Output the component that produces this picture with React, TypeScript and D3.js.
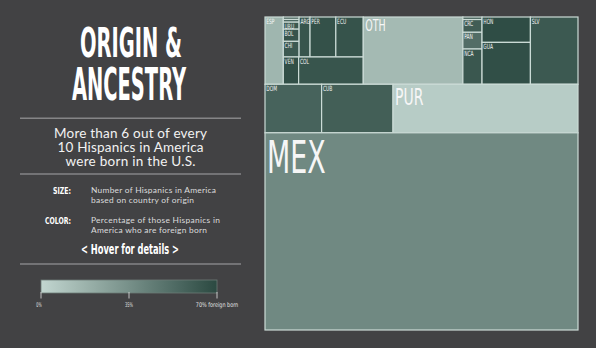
import React from "react";
import * as d3 from "d3";

const W = 596;
const H = 348;

// ---- data (leaves in display order) ----
const codes = ["ESP","PAR","OSA","URU","BOL","CHI","ARG","PER","ECU","VEN","COL","OTH","OCA","CRC","PAN","NCA","HON","GUA","SLV","DOM","CUB","PUR","MEX"];
// thousands of Hispanics by origin
const populations = [635,20,22,57,99,127,225,531,565,215,909,3452,25,126,165,348,633,1044,1649,1415,1785,4624,31798];
// % foreign born
const foreignBorn = [16,60,58,62,65,62,64,66,65,67,64,14,60,60,52,63,68,67,62,57,59,5,38];
const leafGroups = ["top","saSmall","saSmall","saSmall","saSmall","saSmall","saTop","saTop","saTop","saBot","saBot","top","caCol","caCol","caCol","caCol","caMid","caMid","caInner","carib","carib","carib","root"];

const groupIds = ["root","top","sa","saTop","saSmall","saBot","ca","caInner","caCol","caMid","carib"];
const groupParents = ["","root","top","sa","saTop","sa","top","ca","caInner","caInner","root"];

const legendTicks = [0, 35, 70];
const legendTickLabels = ["0%", "35%", "70% foreign born"];

const headline = ["More than 6 out of every", "10 Hispanics in America", "were born in the U.S."];
const sizeText = ["Number of Hispanics in America", "based on country of origin"];
const colorText = ["Percentage of those Hispanics in", "America who are foreign born"];

// ---- styles ----
const BG = "#424244";
const COND = "'Liberation Sans Narrow','DejaVu Sans Condensed','Roboto Condensed',Roboto,sans-serif";
const SANS = "Lato,'Open Sans',sans-serif";
const TM = { x: 265, y: 17, w: 313, h: 313 };

type Row = { id: string; parent: string | null; value: number; fb: number; order: number };

const rows: Row[] = [
  ...groupIds.map((id, i) => ({ id, parent: groupParents[i] || null, value: 0, fb: NaN, order: Infinity })),
  ...codes.map((c, i) => ({ id: c, parent: leafGroups[i], value: populations[i], fb: foreignBorn[i], order: i })),
];

const color = d3.scaleLinear<string>().domain([0, 70]).range(["#c2d6d0", "#2b4941"]);

function buildTree() {
  const root: any = d3.stratify<Row>().id((d) => d.id).parentId((d) => d.parent)(rows);
  root.sum((d: Row) => d.value);
  root.eachAfter((n: any) => {
    n.minOrder = n.children ? d3.min(n.children, (c: any) => c.minOrder) : n.data.order;
  });
  root.sort((a: any, b: any) => a.minOrder - b.minOrder);
  const tile = (node: any, x0: number, y0: number, x1: number, y1: number) =>
    (node.depth % 2 === 0 ? d3.treemapSlice : d3.treemapDice)(node, x0, y0, x1, y1);
  d3.treemap<Row>().tile(tile as any).size([TM.w, TM.h])(root);
  return root;
}

export default function App() {
  const root = buildTree();
  const total = root.value as number;
  const leaves = root.leaves();
  const bigSize = d3.scaleLinear().domain([0.068, 0.092, 0.63]).range([15.5, 23, 44]);
  const fontSize = (v: number) => (v / total < 0.05 ? 7.2 : bigSize(v / total));

  const lx = d3.scaleLinear().domain([0, 70]).range([41, 217]);
  const gradStops = d3.range(0, 71, 7);

  return (
    <svg width={W} height={H} style={{ position: "absolute", left: 0, top: 0, display: "block" }}>
      <defs>
        <linearGradient id="lg" x1="0" x2="1" y1="0" y2="0">
          {gradStops.map((s) => (
            <stop key={s} offset={`${(s / 70) * 100}%`} stopColor={color(s)} />
          ))}
        </linearGradient>
        {leaves.map((l: any) => (
          <clipPath id={`cp-${l.data.id}`} key={l.data.id}>
            <rect x={l.x0} y={l.y0} width={l.x1 - l.x0} height={l.y1 - l.y0} />
          </clipPath>
        ))}
      </defs>
      <rect width={W} height={H} fill={BG} />

      {/* Title */}
      <g fill="#ffffff" fontFamily={COND} fontWeight={700}>
        <text x={80} y={56.7} fontSize={40} textLength={102} lengthAdjust="spacingAndGlyphs">ORIGIN &amp;</text>
        <text x={72} y={99.5} fontSize={45} textLength={114} lengthAdjust="spacingAndGlyphs">ANCESTRY</text>
      </g>

      {/* separators */}
      {[118.3, 174, 264].map((y) => (
        <line key={y} x1={20} x2={241} y1={y} y2={y} stroke="#858587" strokeWidth={1.4} />
      ))}

      {/* headline */}
      <g fill="#f2f2f2" fontFamily={SANS} fontSize={13.5} textAnchor="middle">
        {headline.map((t, i) => (
          <text key={i} x={130.5} y={138.3 + i * 14} textLength={[153, 146, 130][i]} lengthAdjust="spacing">{t}</text>
        ))}
      </g>

      {/* size / color keys */}
      <g fill="#ffffff" fontFamily={COND} fontWeight={700} fontSize={9.5} textAnchor="end">
        <text x={71} y={194} textLength={18} lengthAdjust="spacingAndGlyphs">SIZE:</text>
        <text x={71} y={224} textLength={26} lengthAdjust="spacingAndGlyphs">COLOR:</text>
      </g>
      <g fill="#dcdcdc" fontFamily={SANS} fontSize={8.4}>
        {sizeText.map((t, i) => (
          <text key={i} x={91} y={192.7 + i * 10} textLength={[125, 103][i]} lengthAdjust="spacing">{t}</text>
        ))}
        {colorText.map((t, i) => (
          <text key={i} x={91} y={222.7 + i * 10} textLength={[129, 116][i]} lengthAdjust="spacing">{t}</text>
        ))}
      </g>
      <text x={130} y={254} fill="#ffffff" fontFamily={COND} fontWeight={700} fontSize={14.5} textAnchor="middle"
        textLength={98} lengthAdjust="spacingAndGlyphs">&lt; Hover for details &gt;</text>

      {/* legend */}
      <rect x={lx(0)} y={280} width={lx(70) - lx(0)} height={13} fill="url(#lg)" stroke="#6d7a77" strokeWidth={0.8} />
      {legendTicks.map((t, i) => (
        <g key={t}>
          <line x1={lx(t)} x2={lx(t)} y1={292} y2={298.5} stroke="#e6e6e6" strokeWidth={0.8} />
          <text x={lx(t) - (i === 0 ? 2 : 0)} y={307.3} fill="#e0e0e0" fontFamily={COND} fontSize={6.5} textAnchor="middle"
            textLength={legendTickLabels[i].length * 2.65} lengthAdjust="spacingAndGlyphs">{legendTickLabels[i]}</text>
        </g>
      ))}

      {/* treemap */}
      <g transform={`translate(${TM.x},${TM.y})`}>
        {leaves.map((l: any) => (
          <rect key={l.data.id} x={l.x0} y={l.y0} width={l.x1 - l.x0} height={l.y1 - l.y0}
            fill={color(l.data.fb)} stroke="#cbdbd6" strokeWidth={1.2} />
        ))}
        {leaves.filter((l: any) => l.y1 - l.y0 > 5).map((l: any) => {
          const fs = fontSize(l.value);
          const tx = l.x0 + (fs > 10 ? 2 : 1.3);
          const ty = l.y0 + fs * 0.92;
          return (
            <g key={l.data.id} clipPath={`url(#cp-${l.data.id})`}>
              <text transform={`translate(${tx},${ty}) scale(0.68,1)`}
                fill="#f6f6f6" fontFamily={COND} fontSize={fs}>{l.data.id}</text>
            </g>
          );
        })}
      </g>
    </svg>
  );
}
